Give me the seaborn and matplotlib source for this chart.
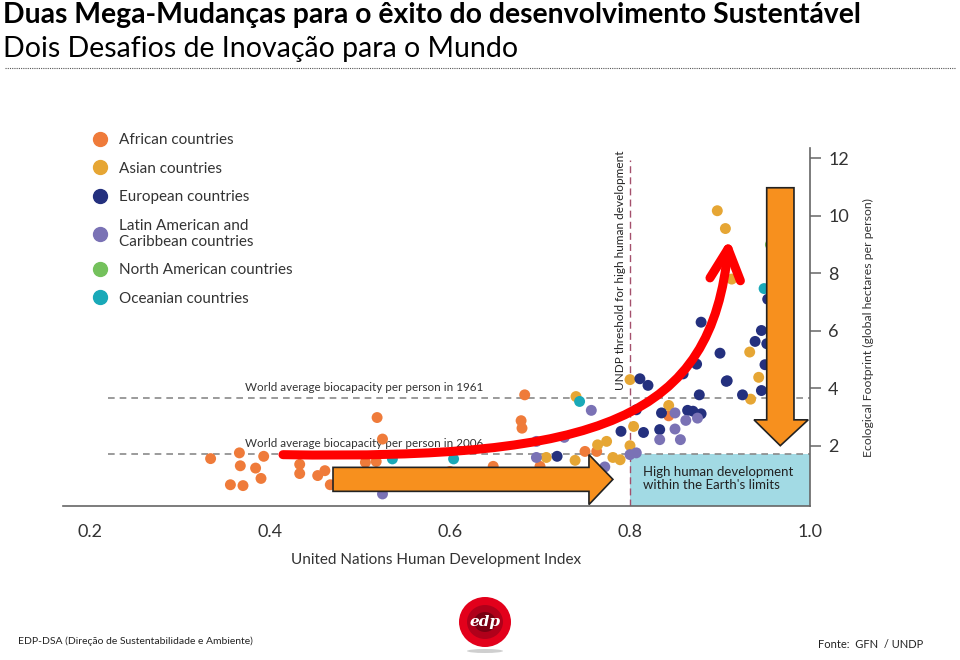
import numpy as np
import pandas as pd
import matplotlib
matplotlib.use('Agg')
import matplotlib.pyplot as plt
import seaborn as sns
from matplotlib import font_manager
from matplotlib.lines import Line2D
from matplotlib.patches import Polygon, Rectangle, FancyArrowPatch, Ellipse
from matplotlib.path import Path

african_hdi = [0.334, 0.366, 0.393, 0.367, 0.384, 0.390, 0.356, 0.370, 0.433, 0.433,
               0.453, 0.461, 0.467, 0.519, 0.525, 0.506, 0.518, 0.648, 0.683, 0.679,
               0.680, 0.750, 0.763, 0.700, 0.843, 0.490, 0.550, 0.600]
african_fp = [1.55, 1.75, 1.63, 1.30, 1.22, 0.86, 0.64, 0.61, 1.35, 1.03,
              0.96, 1.13, 0.64, 2.98, 2.23, 1.42, 1.45, 1.28, 3.77, 2.87,
              2.61, 1.80, 1.80, 1.28, 3.04, 1.00, 0.90, 1.10]

asian_hdi = [0.707, 0.740, 0.739, 0.774, 0.781, 0.789, 0.800, 0.800, 0.804, 0.764,
             0.843, 0.897, 0.906, 0.913, 0.933, 0.943, 0.934]
asian_fp = [1.59, 3.71, 1.49, 2.15, 1.59, 1.51, 4.30, 2.00, 2.67, 2.03,
            3.40, 10.18, 9.56, 7.80, 5.26, 4.38, 3.62]

european_hdi = [0.719, 0.790, 0.807, 0.811, 0.820, 0.859, 0.874, 0.907, 0.877, 0.835,
                0.864, 0.870, 0.879, 0.815, 0.833, 0.879, 0.946, 0.939, 0.952, 0.900,
                0.950, 0.908, 0.946, 0.925, 0.953, 0.960, 0.970, 0.965]
european_fp = [1.63, 2.50, 3.25, 4.33, 4.10, 4.50, 4.84, 4.24, 3.77, 3.14,
               3.23, 3.20, 3.11, 2.46, 2.56, 6.30, 6.01, 5.63, 5.55, 5.22,
               4.82, 4.26, 3.92, 3.77, 7.10, 6.50, 5.00, 4.00]

latin_hdi = [0.757, 0.696, 0.727, 0.696, 0.772, 0.800, 0.807, 0.850, 0.875, 0.862,
             0.833, 0.850, 0.856, 0.525]
latin_fp = [3.23, 2.15, 2.29, 1.59, 1.26, 1.69, 1.75, 3.14, 2.96, 2.88,
            2.21, 2.58, 2.21, 0.32]

namerican_hdi = [0.956, 0.966]
namerican_fp = [9.00, 7.10]

oceanian_hdi = [0.536, 0.604, 0.744, 0.949, 0.970]
oceanian_fp = [1.54, 1.54, 3.54, 7.47, 7.80]

regions = ['African countries', 'Asian countries', 'European countries',
           'Latin American and\nCaribbean countries', 'North American countries',
           'Oceanian countries']
region_colors = ['#EF7B3A', '#E6A634', '#24307E', '#7A72B5', '#74C15C', '#19A9B8']

yticks = [2, 4, 6, 8, 10, 12]
xticks = [0.2, 0.4, 0.6, 0.8, 1.0]
biocap_1961 = 3.67
biocap_2006 = 1.72
threshold = 0.8

df = pd.concat([
    pd.DataFrame({'hdi': h, 'fp': f, 'region': r})
    for h, f, r in zip([african_hdi, asian_hdi, european_hdi, latin_hdi, namerican_hdi, oceanian_hdi],
                       [african_fp, asian_fp, european_fp, latin_fp, namerican_fp, oceanian_fp],
                       regions)
], ignore_index=True)
palette = dict(zip(regions, region_colors))

# --- fontes ---
sns.set_style('white')
names = {f.name for f in font_manager.fontManager.ttflist}
narrow = 'Liberation Sans Narrow' if 'Liberation Sans Narrow' in names else 'Lato'
plt.rcParams['font.family'] = [narrow, 'DejaVu Sans']

fig = plt.figure(figsize=(9.6, 6.6), dpi=100)
ax = fig.add_axes([63 / 960, 154 / 660, 747 / 960, 357.6 / 660])

# zona "dentro dos limites da Terra"
ax.add_patch(Rectangle((threshold, -0.1), 1.0 - threshold, biocap_2006 + 0.1,
                       facecolor='#A2DAE4', edgecolor='none', zorder=0))

# linhas de referência
ax.plot([0.22, 1.0], [biocap_1961] * 2, ls=(0, (4, 3)), color='#8a8a8a', lw=1.2, zorder=1)
ax.plot([0.22, 1.0], [biocap_2006] * 2, ls=(0, (4, 3)), color='#8a8a8a', lw=1.2, zorder=1)
ax.plot([threshold] * 2, [-0.1, 11.95], ls=(0, (5, 3)), color='#A4506C', lw=1.0, zorder=1)

sns.scatterplot(data=df, x='hdi', y='fp', hue='region', hue_order=regions, palette=palette,
                s=62, edgecolor='none', legend=False, ax=ax, zorder=3)

ax.set_xlim(0.17, 1.0)
ax.set_ylim(-0.1, 12.35)
ax.set_xticks(xticks)
ax.set_xticklabels([f'{v:.1f}' for v in xticks])
ax.set_yticks(yticks)
ax.yaxis.tick_right()
ax.yaxis.set_label_position('right')
for s in ['left', 'top']:
    ax.spines[s].set_visible(False)
for s in ['right', 'bottom']:
    ax.spines[s].set_color('#666666')
    ax.spines[s].set_linewidth(1.2)
ax.tick_params(axis='y', direction='out', length=8, width=1.1, color='#666666',
               labelsize=13, pad=5, labelcolor='#333333')
ax.tick_params(axis='x', direction='out', length=4, width=1.1, color='#666666',
               labelsize=13, pad=9, labelcolor='#333333')
ax.set_xlabel('United Nations Human Development Index', fontsize=11, color='#333333', labelpad=9)
ax.set_ylabel('Ecological Footprint (global hectares per person)', fontsize=8.8, color='#333333',
              labelpad=10)

# textos
ax.text(0.372, biocap_1961 + 0.35, 'World average biocapacity per person in 1961',
        fontsize=8.4, color='#333333', va='center', zorder=2)
ax.text(0.372, biocap_2006 + 0.35, 'World average biocapacity per person in 2006',
        fontsize=8.4, color='#333333', va='center', zorder=2)
ax.text(0.789, 8.12, 'UNDP threshold for high human development', rotation=90,
        fontsize=8.5, color='#222222', ha='center', va='center', zorder=2)
ax.text(0.8144, 0.85, "High human development\nwithin the Earth's limits",
        fontsize=9.5, color='#222222', va='center', linespacing=1.05, zorder=2)

# setas laranja
h_arrow = [(0.470, 1.245), (0.7544, 1.245), (0.7544, 1.687), (0.781, 0.827),
           (0.7544, -0.05), (0.7544, 0.41), (0.470, 0.41)]
ax.add_patch(Polygon(h_arrow, closed=True, facecolor='#F7901E', edgecolor='#222222',
                     lw=1.2, zorder=5))
v_arrow = [(0.9519, 10.98), (0.9822, 10.98), (0.9822, 2.90), (0.998, 2.90),
           (0.967, 2.0), (0.9378, 2.90), (0.9519, 2.90)]
ax.add_patch(Polygon(v_arrow, closed=True, facecolor='#F7901E', edgecolor='#222222',
                     lw=1.2, zorder=5))

# seta vermelha curva
curve = Path([(0.4144, 1.687), (0.7667, 1.513), (0.8911, 2.904), (0.910, 9.2)],
             [Path.MOVETO, Path.CURVE4, Path.CURVE4, Path.CURVE4])
ax.add_patch(FancyArrowPatch(path=curve, arrowstyle='->,head_length=22,head_width=11',
                             mutation_scale=1, color='#FF0000', lw=6.5,
                             shrinkA=0, shrinkB=0, zorder=6))

# legenda
handles = [Line2D([], [], marker='o', ls='', markersize=10, markerfacecolor=c,
                  markeredgecolor=c) for c in region_colors]
fig.legend(handles, regions, loc='upper left', bbox_to_anchor=(92 / 960, 1 - 133 / 660),
           frameon=False, fontsize=11, handlelength=1.0, handletextpad=0.75,
           labelspacing=0.95, borderpad=0, borderaxespad=0, labelcolor='#333333')

# título
fig.text(0.003, 1 - 15 / 660, 'Duas Mega-Mudanças para o êxito do desenvolvimento Sustentável',
         fontsize=20.4, fontweight='bold', va='center', color='black')
fig.text(0.003, 1 - 49 / 660, 'Dois Desafios de Inovação para o Mundo',
         fontsize=20.5, va='center', color='black')
fig.add_artist(Line2D([0.005, 0.995], [1 - 68 / 660] * 2, ls=(0, (1, 1)), color='#555555', lw=0.8))

# rodapé
fig.text(18 / 960, 1 - 641 / 660, 'EDP-DSA (Direção de Sustentabilidade e Ambiente)',
         fontsize=7.5, va='center', color='#222222')
fig.text(923 / 960, 1 - 645 / 660, 'Fonte:  GFN  / UNDP', fontsize=8, va='center',
         ha='right', color='#222222')

# logótipo edp
lax = fig.add_axes([455 / 960, 1 - 657 / 660, 60 / 960, 62 / 660])
lax.set_xlim(0, 60)
lax.set_ylim(0, 62)
lax.axis('off')
lax.add_patch(Ellipse((30, 6), 36, 4, color='#cfcfcf', lw=0))
lax.add_patch(Ellipse((30, 35), 52, 50, color='#E3001B', lw=0))
lax.add_patch(Ellipse((30, 35), 36, 34, color='#B0001A', lw=0))
lax.add_patch(Ellipse((30, 35), 22, 20, color='#7A0012', lw=0))
lax.text(30, 35, 'edp', color='white', fontsize=11, fontweight='bold', style='italic',
         ha='center', va='center', family='DejaVu Serif')

fig.savefig('out.png', dpi=100)
